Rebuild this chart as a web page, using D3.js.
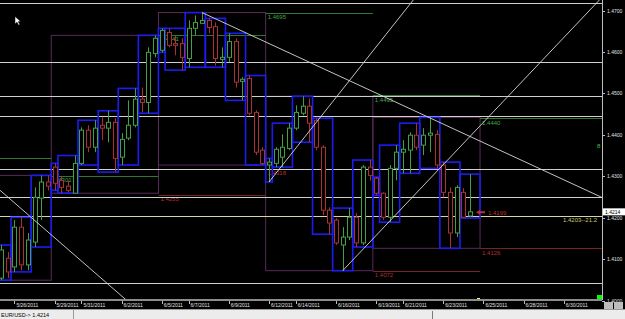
<!DOCTYPE html>
<html>
<head>
<meta charset="utf-8">
<script src="https://cdn.jsdelivr.net/npm/d3@7"></script>
<style>
body{margin:0;background:#000;overflow:hidden}
text{font-family:"Liberation Sans",Arial,sans-serif}
</style>
</head>
<body>
<script>
//candle data (EUR/USD, 8h bars)
var opens  = [1.4054,1.4102,1.4081,1.4177,1.4086,1.4141,1.4247,1.4286,1.4322,1.4290,1.4276,1.4259,1.4331,1.4411,1.4370,1.4423,1.4416,1.4430,1.4346,1.4392,1.4423,1.4486,1.4478,1.4596,1.4604,1.4647,1.4620,1.4620,1.4584,1.4657,1.4669,1.4676,1.4661,1.4582,1.4587,1.4625,1.4529,1.4536,1.4454,1.4363,1.4327,1.4331,1.4346,1.4367,1.4416,1.4452,1.4469,1.4435,1.4370,1.4218,1.4194,1.4134,1.4153,1.4201,1.4139,1.4322,1.4295,1.4259,1.4201,1.4319,1.4358,1.4363,1.4399,1.4375,1.4399,1.4401,1.4327,1.4261,1.4163,1.4261,1.4204];
var highs  = [1.4134,1.4117,1.4194,1.4201,1.4163,1.4273,1.4302,1.4302,1.4331,1.4300,1.4290,1.4350,1.4418,1.4423,1.4435,1.4442,1.4458,1.4440,1.4404,1.4483,1.4512,1.4514,1.4611,1.4640,1.4657,1.4657,1.4640,1.4633,1.4676,1.4688,1.4695,1.4681,1.4671,1.4611,1.4645,1.4633,1.4539,1.4543,1.4459,1.4370,1.4343,1.4370,1.4401,1.4428,1.4471,1.4493,1.4488,1.4440,1.4375,1.4225,1.4199,1.4177,1.4223,1.4211,1.4327,1.4339,1.4298,1.4261,1.4327,1.4375,1.4387,1.4406,1.4428,1.4416,1.4442,1.4411,1.4334,1.4273,1.4278,1.4271,1.4305];
var lows   = [1.4049,1.4054,1.4069,1.4073,1.4073,1.4129,1.4194,1.4266,1.4266,1.4259,1.4261,1.4259,1.4327,1.4358,1.4358,1.4387,1.4382,1.4310,1.4327,1.4387,1.4418,1.4454,1.4452,1.4587,1.4599,1.4611,1.4592,1.4556,1.4563,1.4640,1.4669,1.4645,1.4567,1.4563,1.4575,1.4514,1.4483,1.4447,1.4351,1.4327,1.4286,1.4322,1.4322,1.4363,1.4411,1.4447,1.4382,1.4363,1.4206,1.4160,1.4134,1.4072,1.4146,1.4129,1.4134,1.4290,1.4254,1.4194,1.4189,1.4290,1.4307,1.4307,1.4363,1.4351,1.4358,1.4319,1.4249,1.4126,1.4153,1.4199,1.4201];
var closes = [1.4122,1.4069,1.4177,1.4086,1.4146,1.4249,1.4286,1.4276,1.4283,1.4273,1.4266,1.4331,1.4411,1.4370,1.4416,1.4416,1.4430,1.4343,1.4389,1.4423,1.4486,1.4478,1.4599,1.4633,1.4652,1.4616,1.4616,1.4587,1.4657,1.4671,1.4676,1.4659,1.4584,1.4587,1.4625,1.4527,1.4534,1.4452,1.4358,1.4331,1.4334,1.4365,1.4370,1.4416,1.4454,1.4469,1.4428,1.4370,1.4218,1.4187,1.4139,1.4153,1.4201,1.4139,1.4322,1.4302,1.4259,1.4201,1.4319,1.4358,1.4365,1.4399,1.4370,1.4399,1.4404,1.4327,1.4261,1.4163,1.4273,1.4201,1.4214];

//first bar of each trading day (daily boxes) and of each week (weekly boxes)
var dayStarts  = [-1,2,5,8,9,12,15,18,21,24,25,28,31,34,37,40,41,44,47,50,53,56,57,60,63,66,69];
var weekStarts = [-10,8,24,40,56];
var weekEnds   = [7,23,39,55,71];

//previous week high / low levels drawn across each week
var levelStarts = [-10,8,24,40,56,72];
var levelEnds   = [7,23,39,55,71,null];
var prevHighs   = [1.4343,1.4301,1.4641,1.4695,1.4495,1.4440];
var prevLows    = [null,null,1.4255,1.4318,1.4072,1.4126];

//horizontal lines
var hLines = [1.4718,1.4575,1.4493,1.4445,1.4317,1.4249,1.4042];
var markLine = 1.4203, markLabel = "1.4203--21.2";

//trendlines [bar, price] pairs, "ray" extends right only
var trendlines = [
    {a:[30,1.4695], b:[70,1.4396], ray:true},
    {a:[0,1.4264],  b:[18,1.4011], ray:false},
    {a:[40,1.4286], b:[60,1.4694], ray:true},
    {a:[51,1.4072], b:[70,1.4396], ray:true}
];

//axis labels
var priceTicks = [1.40,1.41,1.42,1.43,1.44,1.45,1.46,1.47];
var dateIdx    = [2,8,12,18,24,28,34,40,44,50,56,60,66,72,78,84];
var dateLabels = ["5/26/2011","5/29/2011","5/31/2011","6/2/2011","6/5/2011","6/7/2011","6/9/2011","6/12/2011","6/14/2011","6/16/2011","6/19/2011","6/21/2011","6/23/2011","6/25/2011","6/28/2011","6/30/2011"];
var lastPrice = 1.4214;

window.onload = drawChart();

function drawChart(){

    var width = 625, height = 319,
        plotW = 602, plotH = 300;

    var svg = d3.select("body")
        .append("svg")
        .attr("width", width)
        .attr("height", height);

    svg.append("rect")
        .attr("width", width).attr("height", height)
        .attr("fill", "#000");

    var x = d3.scaleLinear().domain([0, 70]).range([1, 470]);
    var y = d3.scaleLinear().domain([1.40, 1.47]).range([300.5, 10.5]);
    var half = (x(1) - x(0)) / 2;

    svg.append("clipPath").attr("id", "plot")
        .append("rect").attr("width", plotW).attr("height", plotH);

    var g = svg.append("g").attr("clip-path", "url(#plot)");

    var bars = d3.range(opens.length);

    //group helper: extremes of bars in [s, e]
    function range(s, e){
        var sub = bars.filter(function(i){ return i >= s && i <= e; });
        return {hi: d3.max(sub, function(i){ return highs[i]; }),
                lo: d3.min(sub, function(i){ return lows[i]; })};
    }

    //weekly boxes
    weekStarts.forEach(function(s, k){
        var r = range(s, weekEnds[k]);
        var x0 = Math.max(x(s) - half, -5);
        g.append("rect")
            .attr("x", x0).attr("y", y(r.hi))
            .attr("width", x(weekEnds[k]) + half - x0)
            .attr("height", y(r.lo) - y(r.hi))
            .attr("fill", "none")
            .attr("stroke", "#5a2a5a")
            .attr("stroke-width", 1);
    });

    //previous week levels (label only when the week starts on screen)
    levelStarts.forEach(function(s, k){
        var x0 = x(s) - half,
            x1 = levelEnds[k] === null ? plotW : x(levelEnds[k]) + half;
        [[prevHighs[k], "#2f7a2f", "#45a845"], [prevLows[k], "#7a2222", "#b83030"]].forEach(function(lv){
            if (lv[0] === null) return;
            g.append("line")
                .attr("x1", x0).attr("x2", x1)
                .attr("y1", Math.round(y(lv[0])) + 0.5).attr("y2", Math.round(y(lv[0])) + 0.5)
                .attr("stroke", lv[1]);
            if (x0 < 0) return;
            g.append("text")
                .attr("x", x0 + 2).attr("y", y(lv[0]) + 6.5)
                .attr("fill", lv[2])
                .attr("font-size", 6)
                .text(lv[0].toFixed(4));
        });
    });

    //horizontal lines
    g.selectAll(".hline")
        .data(hLines)
        .enter()
        .append("line")
        .attr("class", "hline")
        .attr("x1", 0).attr("x2", plotW)
        .attr("y1", function(d){ return Math.round(y(d)) + 0.5; })
        .attr("y2", function(d){ return Math.round(y(d)) + 0.5; })
        .attr("stroke", "#cfcfcf");

    g.append("line")
        .attr("x1", 0).attr("x2", plotW)
        .attr("y1", Math.round(y(markLine)) + 0.5).attr("y2", Math.round(y(markLine)) + 0.5)
        .attr("stroke", "#d6d6a4");

    g.append("text")
        .attr("x", 597).attr("y", y(markLine) + 5.5)
        .attr("text-anchor", "end")
        .attr("fill", "#c8c86a")
        .attr("font-size", 6)
        .text(markLabel);

    //daily boxes
    dayStarts.forEach(function(s, k){
        var e = k < dayStarts.length - 1 ? dayStarts[k + 1] - 1 : 71;
        var r = range(s, e);
        g.append("rect")
            .attr("x", x(s) - half).attr("y", y(r.hi))
            .attr("width", x(e) - x(s) + 2 * half)
            .attr("height", y(r.lo) - y(r.hi))
            .attr("fill", "none")
            .attr("stroke", "#1c1cf2")
            .attr("stroke-width", 1.6);
    });

    //candles
    var candle = g.selectAll(".candle")
        .data(bars)
        .enter()
        .append("g")
        .attr("class", "candle");

    function col(i){ return closes[i] >= opens[i] ? "#44a044" : "#aa3232"; }

    candle.append("line")
        .attr("x1", function(i){ return Math.round(x(i)) + 0.5; })
        .attr("x2", function(i){ return Math.round(x(i)) + 0.5; })
        .attr("y1", function(i){ return y(highs[i]); })
        .attr("y2", function(i){ return y(lows[i]); })
        .attr("stroke", col);

    candle.append("rect")
        .attr("x", function(i){ return Math.round(x(i)) - 1.5; })
        .attr("width", 4)
        .attr("y", function(i){ return y(Math.max(opens[i], closes[i])); })
        .attr("height", function(i){ return Math.max(1, Math.abs(y(opens[i]) - y(closes[i]))); })
        .attr("fill", "#000")
        .attr("stroke", col);

    //trendlines
    trendlines.forEach(function(t){
        var ax = x(t.a[0]), ay = y(t.a[1]),
            bx = x(t.b[0]), by = y(t.b[1]);
        var m = (by - ay) / (bx - ax);
        var x0 = t.ray ? ax : -10, x1 = plotW;
        g.append("line")
            .attr("x1", x0).attr("y1", ay + m * (x0 - ax))
            .attr("x2", x1).attr("y2", ay + m * (x1 - ax))
            .attr("stroke", "#d8d8d8")
            .attr("stroke-width", 0.9);
    });

    //arrow and label at last bar
    var ay = y(closes[70]) + 0.5;
    g.append("path")
        .attr("d", "M" + (x(70) + 6) + "," + ay + "l4,-2.5v1.5h5v2h-5v1.5z")
        .attr("fill", "#b83030");
    g.append("text")
        .attr("x", x(70) + 18).attr("y", ay + 3)
        .attr("fill", "#b83030").attr("font-size", 6)
        .text("1.4199");

    //markers
    g.append("rect").attr("x", 597).attr("y", 295).attr("width", 5).attr("height", 5).attr("fill", "#00ff00");
    g.append("rect").attr("x", 477).attr("y", 298).attr("width", 3).attr("height", 3).attr("fill", "#ffff66");
    svg.append("text").attr("x", 597).attr("y", 148).attr("fill", "#45c045").attr("font-size", 6).text("8");

    //mouse pointer
    svg.append("path")
        .attr("d", "M15,16.5 L15,24 L17,22.2 L18.6,25.2 L19.8,24.6 L18.3,21.6 L20.8,21.6 Z")
        .attr("fill", "#fff").attr("stroke", "#000").attr("stroke-width", 0.5);

    //price axis
    svg.append("line")
        .attr("x1", plotW + 0.5).attr("x2", plotW + 0.5)
        .attr("y1", 0).attr("y2", plotH)
        .attr("stroke", "#bdbdbd");

    var ticks = svg.selectAll(".ptick")
        .data(priceTicks)
        .enter()
        .append("g")
        .attr("class", "ptick");
    ticks.append("line")
        .attr("x1", plotW).attr("x2", plotW + 3)
        .attr("y1", function(d){ return Math.round(y(d)) + 0.5; })
        .attr("y2", function(d){ return Math.round(y(d)) + 0.5; })
        .attr("stroke", "#bdbdbd");
    ticks.append("text")
        .attr("x", 607).attr("y", function(d){ return y(d) + 2; })
        .attr("fill", "#e0e0e0").attr("font-size", 5)
        .text(function(d){ return d.toFixed(4); });

    //current price box
    svg.append("rect")
        .attr("x", 603).attr("y", y(lastPrice) - 3.5)
        .attr("width", 22).attr("height", 7)
        .attr("fill", "#fff");
    svg.append("text")
        .attr("x", 605).attr("y", y(lastPrice) + 2)
        .attr("fill", "#000").attr("font-size", 5)
        .text(lastPrice.toFixed(4));

    //time axis
    svg.append("rect")
        .attr("x", 0).attr("y", 299).attr("width", plotW).attr("height", 2)
        .attr("fill", "#8c8c8c");

    var dates = svg.selectAll(".dlab")
        .data(dateIdx)
        .enter()
        .append("g")
        .attr("class", "dlab");
    dates.append("line")
        .attr("x1", function(d){ return Math.round(x(d)) + 0.5; })
        .attr("x2", function(d){ return Math.round(x(d)) + 0.5; })
        .attr("y1", 301).attr("y2", 304)
        .attr("stroke", "#bdbdbd");
    dates.append("text")
        .attr("x", function(d){ return x(d) + 2; })
        .attr("y", 307)
        .attr("fill", "#e0e0e0").attr("font-size", 5)
        .text(function(d, k){ return dateLabels[k]; });

    //corner buttons
    svg.append("rect").attr("x", 604).attr("y", 302).attr("width", 9).attr("height", 7).attr("fill", "#bdbdbd");
    svg.append("rect").attr("x", 614).attr("y", 302).attr("width", 9).attr("height", 7).attr("fill", "#bdbdbd");

    //status bar
    svg.append("rect")
        .attr("x", 0).attr("y", 309.5).attr("width", width).attr("height", 10)
        .attr("fill", "#ececec");
    svg.append("line")
        .attr("x1", 0).attr("x2", width).attr("y1", 309.5).attr("y2", 309.5)
        .attr("stroke", "#9a9a9a");
    svg.append("line")
        .attr("x1", 73.5).attr("x2", 73.5).attr("y1", 310).attr("y2", 319)
        .attr("stroke", "#9a9a9a");
    svg.append("line")
        .attr("x1", 432.5).attr("x2", 432.5).attr("y1", 311).attr("y2", 319)
        .attr("stroke", "#7a7a7a");
    svg.append("text")
        .attr("x", 1).attr("y", 316.5)
        .attr("fill", "#000").attr("font-size", 5.5)
        .text("EUR/USD-> " + lastPrice.toFixed(4));
};
</script>
</body>
</html>
